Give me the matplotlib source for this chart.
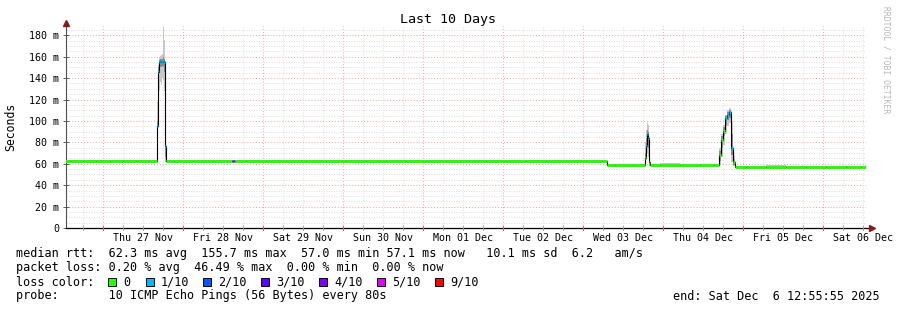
import numpy as np
import pandas as pd
import matplotlib
matplotlib.use('Agg')
from matplotlib import pyplot as plt
import matplotlib.dates as mdates
from matplotlib.patches import Rectangle

plt.rcParams['font.family'] = ['DejaVu Sans Mono']

# smokeping samples (median rtt in ms, smoke range, pings lost of 10)
times = [
    '2025-11-26 12:56', '2025-11-26 16:00', '2025-11-26 20:00', '2025-11-27 00:00',
    '2025-11-27 04:00', '2025-11-27 08:00', '2025-11-27 12:00', '2025-11-27 15:56',
    '2025-11-27 16:14', '2025-11-27 16:32', '2025-11-27 16:50', '2025-11-27 17:08',
    '2025-11-27 17:26', '2025-11-27 17:44', '2025-11-27 18:02', '2025-11-27 18:20',
    '2025-11-27 18:38', '2025-11-27 18:56', '2025-11-28 00:00', '2025-11-28 06:00',
    '2025-11-28 12:00', '2025-11-28 14:20', '2025-11-28 14:50', '2025-11-28 15:26',
    '2025-11-28 16:00', '2025-11-28 22:00', '2025-11-29 04:00', '2025-11-29 10:00',
    '2025-11-29 16:00', '2025-11-29 22:00', '2025-11-30 04:00', '2025-11-30 10:00',
    '2025-11-30 16:00', '2025-11-30 22:00', '2025-12-01 04:00', '2025-12-01 10:00',
    '2025-12-01 16:00', '2025-12-01 22:00', '2025-12-02 04:00', '2025-12-02 10:00',
    '2025-12-02 16:00', '2025-12-02 22:00', '2025-12-03 04:00', '2025-12-03 07:10',
    '2025-12-03 07:30', '2025-12-03 12:00', '2025-12-03 18:20', '2025-12-03 18:38',
    '2025-12-03 18:56', '2025-12-03 19:14', '2025-12-03 19:32', '2025-12-03 19:50',
    '2025-12-03 20:08', '2025-12-04 02:00', '2025-12-04 08:00', '2025-12-04 14:00',
    '2025-12-04 16:32', '2025-12-04 17:08', '2025-12-04 17:44', '2025-12-04 18:20',
    '2025-12-04 18:56', '2025-12-04 19:32', '2025-12-04 20:08', '2025-12-04 20:44',
    '2025-12-04 21:20', '2025-12-04 21:56', '2025-12-05 04:00', '2025-12-05 10:00',
    '2025-12-05 16:00', '2025-12-05 22:00', '2025-12-06 04:00', '2025-12-06 10:00',
    '2025-12-06 12:56',
]
median = [
    62.2, 62.2, 62.2, 62.2, 62.2, 62.2, 62.2, 62.2,
    95.0, 146.0, 155.0, 155.7, 155.2, 155.5, 155.7, 155.4,
    77.0, 62.2, 62.2, 62.2, 62.2, 62.2, 62.2, 62.2,
    62.2, 62.2, 62.2, 62.2, 62.2, 62.2, 62.2, 62.2,
    62.2, 62.2, 62.2, 62.2, 62.2, 62.2, 62.2, 62.2,
    62.2, 62.2, 62.2, 62.2, 58.8, 58.8, 58.8, 65.0,
    77.0, 88.0, 84.0, 62.0, 58.8, 58.9, 58.9, 59.0,
    59.0, 68.0, 82.0, 91.0, 102.5, 106.0, 108.0, 75.0,
    62.0, 57.1, 57.1, 57.1, 57.1, 57.1, 57.1, 57.1,
    57.1,
]
smoke_lo = [
    61.4, 61.4, 61.4, 61.4, 61.4, 61.4, 61.4, 61.4,
    70.0, 122.0, 128.0, 136.0, 134.0, 140.0, 138.0, 128.0,
    62.0, 61.4, 61.4, 61.4, 61.4, 61.4, 61.4, 61.4,
    61.4, 61.4, 61.4, 61.4, 61.4, 61.4, 61.4, 61.4,
    61.4, 61.4, 61.4, 61.4, 61.4, 61.4, 61.4, 61.4,
    61.4, 61.4, 61.4, 61.4, 58.0, 58.0, 58.0, 60.0,
    64.0, 70.0, 66.0, 58.0, 58.0, 58.1, 58.1, 58.2,
    58.2, 60.0, 66.0, 78.0, 88.0, 95.0, 98.0, 62.0,
    58.0, 56.3, 56.3, 56.3, 56.3, 56.3, 56.3, 56.3,
    56.3,
]
smoke_hi = [
    63.3, 63.2, 63.6, 63.3, 63.2, 63.4, 63.6, 63.2,
    118.0, 152.0, 160.0, 161.0, 162.0, 163.0, 188.0, 176.0,
    82.0, 63.3, 63.2, 63.7, 63.3, 63.4, 63.2, 63.4,
    63.8, 63.4, 63.2, 63.5, 63.7, 63.3, 63.2, 63.4,
    63.3, 63.5, 63.2, 63.8, 63.3, 63.4, 63.2, 63.5,
    63.6, 63.3, 63.2, 63.3, 59.9, 60.2, 59.9, 80.0,
    92.0, 98.0, 96.0, 75.0, 60.1, 60.3, 60.0, 60.2,
    60.2, 75.0, 88.0, 96.0, 106.0, 110.0, 112.0, 100.0,
    68.0, 58.2, 58.2, 58.4, 58.1, 58.2, 58.3, 58.2,
    58.1,
]
smoke_q_lo = [
    61.8, 61.8, 61.8, 61.8, 61.8, 61.8, 61.8, 61.8,
    88.0, 138.0, 148.0, 150.0, 150.0, 151.0, 150.0, 146.0,
    66.0, 61.8, 61.8, 61.8, 61.8, 61.8, 61.8, 61.8,
    61.8, 61.8, 61.8, 61.8, 61.8, 61.8, 61.8, 61.8,
    61.8, 61.8, 61.8, 61.8, 61.8, 61.8, 61.8, 61.8,
    61.8, 61.8, 61.8, 61.8, 58.4, 58.4, 58.4, 62.0,
    70.0, 80.0, 75.0, 59.0, 58.4, 58.5, 58.5, 58.6,
    58.6, 63.0, 75.0, 86.0, 96.0, 101.0, 103.0, 68.0,
    59.0, 56.7, 56.7, 56.7, 56.7, 56.7, 56.7, 56.7,
    56.7,
]
smoke_q_hi = [
    62.6, 62.6, 62.6, 62.6, 62.6, 62.6, 62.6, 62.6,
    100.0, 150.0, 157.0, 158.0, 158.0, 158.0, 160.0, 158.0,
    78.0, 62.6, 62.6, 62.6, 62.6, 62.6, 62.6, 62.6,
    62.6, 62.6, 62.6, 62.6, 62.6, 62.6, 62.6, 62.6,
    62.6, 62.6, 62.6, 62.6, 62.6, 62.6, 62.6, 62.6,
    62.6, 62.6, 62.6, 62.6, 59.2, 59.2, 59.2, 70.0,
    84.0, 92.0, 90.0, 68.0, 59.2, 59.3, 59.3, 59.4,
    59.4, 72.0, 86.0, 94.0, 105.0, 108.0, 110.0, 88.0,
    64.0, 57.5, 57.5, 57.5, 57.5, 57.5, 57.5, 57.5,
    57.5,
]
loss = [
    0, 0, 0, 0, 0, 0, 0, 0,
    1, 1, 1, 1, 1, 1, 1, 1,
    1, 0, 0, 0, 0, 0, 2, 5,
    0, 0, 0, 0, 0, 0, 0, 0,
    0, 0, 0, 0, 0, 0, 0, 0,
    0, 0, 0, 0, 0, 0, 0, 0,
    1, 1, 1, 0, 0, 0, 0, 0,
    0, 0, 0, 0, 1, 1, 1, 1,
    0, 0, 0, 0, 0, 0, 0, 0,
    0,
]

loss_labels = ['0', '1/10', '2/10', '3/10', '4/10', '5/10', '9/10']
loss_levels = [0, 1, 2, 3, 4, 5, 9]
loss_colors = ['#26ff00', '#00b8ff', '#0059ff', '#5e00ff', '#7e00ff', '#dd00ff', '#ff0000']

day_labels = ['Thu 27 Nov', 'Fri 28 Nov', 'Sat 29 Nov', 'Sun 30 Nov', 'Mon 01 Dec',
              'Tue 02 Dec', 'Wed 03 Dec', 'Thu 04 Dec', 'Fri 05 Dec', 'Sat 06 Dec']
day_noons = ['2025-11-27 12:00', '2025-11-28 12:00', '2025-11-29 12:00', '2025-11-30 12:00',
             '2025-12-01 12:00', '2025-12-02 12:00', '2025-12-03 12:00', '2025-12-04 12:00',
             '2025-12-05 12:00', '2025-12-06 12:00']

start = '2025-11-26 12:55:55'
end = '2025-12-06 12:55:55'

W, H = 897, 310


def fx(x):
    return x / W


def fy(y):
    return 1 - y / H


t = mdates.date2num(pd.to_datetime(times))
med = np.array(median)
t0 = mdates.date2num(pd.Timestamp(start))
t1 = mdates.date2num(pd.Timestamp(end))

fig = plt.figure(figsize=(W / 100, H / 100), dpi=100)
ax = fig.add_axes([fx(66), 82 / H, 800 / W, 202 / H])
ax.set_xlim(t0, t1)
ax.set_ylim(0, 188.7)
for s in ax.spines.values():
    s.set_visible(False)

# grid
for v in np.arange(5, 188, 5):
    if v % 20:
        ax.axhline(v, color='#d4d4d4', lw=0.6, ls=(0, (1, 2)), zorder=0)
for v in np.arange(20, 188, 20):
    ax.axhline(v, color='#f4a0a0', lw=0.7, ls=(0, (1, 2)), zorder=0)
hours = pd.date_range('2025-11-26 18:00', '2025-12-06 12:00', freq='6h')
for h in hours:
    if h.hour == 0:
        ax.axvline(mdates.date2num(h), color='#f4a0a0', lw=0.7, ls=(0, (1, 2)), zorder=0)
    else:
        ax.axvline(mdates.date2num(h), color='#d4d4d4', lw=0.6, ls=(0, (1, 2)), zorder=0)

# smoke
ax.fill_between(t, smoke_lo, smoke_hi, step='mid', color='#c8c8c8', lw=0, zorder=2)
ax.fill_between(t, smoke_q_lo, smoke_q_hi, step='mid', color='#8c8c8c', lw=0, zorder=2)

# median line
ax.plot(t, med, drawstyle='steps-mid', color='black', lw=0.8, zorder=3)
mid = (t[:-1] + t[1:]) / 2
left = np.concatenate([[t[0] - (mid[0] - t[0])], mid])
right = np.concatenate([mid, [t[-1] + (t[-1] - mid[-1])]])
cmap = dict(zip(loss_levels, loss_colors))
cols = [cmap.get(l, '#ff0000') for l in loss]
ax.hlines(med, left, right, colors=cols, lw=2.2, zorder=4)

# ticks
ax.set_yticks(np.arange(0, 181, 20))
ax.set_yticklabels(['0'] + ['%d m' % v for v in range(20, 181, 20)])
ax.tick_params(axis='y', direction='inout', length=4, width=0.7, color='#606060',
               labelsize=7.2, pad=3)
ax.set_xticks(mdates.date2num(pd.to_datetime(day_noons)))
ax.set_xticklabels(day_labels)
ax.tick_params(axis='x', length=0, labelsize=7.2, pad=3.8)
for h in hours:
    c = '#e06060' if h.hour == 0 else '#a0a0a0'
    ax.plot([mdates.date2num(h)] * 2, [-1.5, 1.5], color=c, lw=0.7, clip_on=False, zorder=5)

# axes with arrows
ax.plot([0, 0], [0, 1.01], color='#505050', lw=0.8, transform=ax.transAxes, clip_on=False)
ax.plot([0, 1.006], [0, 0], color='black', lw=0.9, transform=ax.transAxes, clip_on=False)
ax.plot([0], [1.015], marker='^', ms=4, color='#8b1a1a', transform=ax.transAxes, clip_on=False)
ax.plot([1.007], [0], marker='>', ms=4, color='#8b1a1a', transform=ax.transAxes, clip_on=False)

# texts
fig.text(fx(448), fy(19), 'Last 10 Days', ha='center', va='center', fontsize=9.6)
fig.text(fx(11), fy(127), 'Seconds', rotation=90, ha='center', va='center', fontsize=8.3)
fig.text(fx(886), fy(60), 'RRDTOOL / TOBI OETIKER', rotation=270, ha='center', va='center',
         fontsize=5.8, color='#b8b8b8')

fs = 8.5
fig.text(fx(16), fy(254), 'median rtt:  62.3 ms avg  155.7 ms max  57.0 ms min 57.1 ms now   10.1 ms sd  6.2   am/s',
         va='center', fontsize=fs)
fig.text(fx(16), fy(268), 'packet loss: 0.20 % avg  46.49 % max  0.00 % min  0.00 % now',
         va='center', fontsize=fs)
fig.text(fx(16), fy(282), 'loss color:', va='center', fontsize=fs)
sq_x = [108, 146, 203, 261, 319, 377, 435]
for xs, lab, c in zip(sq_x, loss_labels, loss_colors):
    fig.patches.append(Rectangle((fx(xs), fy(286)), 8 / W, 8 / H, facecolor=c,
                                 edgecolor='black', lw=0.7, transform=fig.transFigure))
    fig.text(fx(xs + 15), fy(282), lab, va='center', fontsize=fs)
fig.text(fx(16), fy(296), 'probe:       10 ICMP Echo Pings (56 Bytes) every 80s',
         va='center', fontsize=fs)
fig.text(fx(880), fy(296), 'end: Sat Dec  6 12:55:55 2025', ha='right', va='center', fontsize=fs)

fig.savefig('out.png', dpi=100)
